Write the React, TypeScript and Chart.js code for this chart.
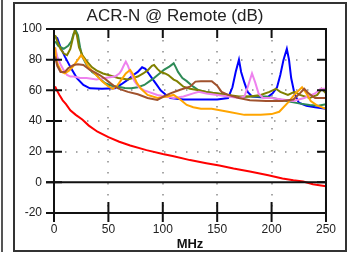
import React, { useEffect, useRef } from "react";
import { Chart, registerables } from "chart.js";

Chart.register(...registerables);

const TITLE = "ACR-N @ Remote (dB)";
const X_TITLE = "MHz";
const X_TICKS = [0, 50, 100, 150, 200, 250];
const Y_TICKS = [-20, 0, 20, 40, 60, 80, 100];
const X_GRID = [50, 100, 150, 200];
const Y_GRID = [20, 40, 60, 80];

const blueF = [1, 3, 6, 10, 16, 21, 27, 33, 44, 56, 62, 68, 73, 77, 81, 84, 87, 90, 94, 98, 103, 107, 119, 133, 150, 160, 164, 167, 170, 172, 175, 178, 182, 190, 196, 201, 205, 208, 211, 214, 216, 218, 221, 225, 232, 240, 250];
const blueV = [95, 94, 88, 82, 74, 68, 63.5, 61.3, 61, 61.3, 64, 67, 70, 72, 75, 74, 71, 68, 64, 60, 57, 55, 54, 54, 54, 55, 62, 72, 80, 72, 65, 59, 56, 55.5, 55.5, 58, 62, 70, 80, 87, 80, 68, 58, 52, 50, 49, 48];

const oliveF = [1, 3, 6, 9, 12, 15, 17, 19, 21, 23, 26, 30, 35, 39, 45, 50, 59, 68, 77, 82, 86, 90, 92, 95, 98, 102, 105, 110, 113, 119, 125, 133, 140, 150, 160, 170, 180, 190, 198, 204, 208, 215, 221, 226, 235, 242, 246, 250];
const oliveV = [96, 92, 87, 84, 83, 87, 93, 99, 96, 88, 83, 79, 75, 73, 71, 70, 68, 67, 69, 71, 73, 76, 76.5, 74, 72, 71, 70, 67, 66, 62.4, 61, 60, 59, 58, 57, 56, 56, 57, 59, 61, 59, 57, 59, 57, 55, 57, 61, 58];

const greenF = [1, 4, 9, 13, 16, 18, 20, 22, 24, 26, 30, 35, 39, 43, 47, 53, 59, 65, 71, 77, 83, 88, 92, 97, 101, 106, 110, 112, 114, 118, 122, 128, 133, 140, 150, 160, 168, 180, 195, 210, 225, 235, 243, 250];
const greenV = [92, 89, 87, 89, 92, 97, 99, 96, 88, 82, 76.5, 72, 70, 67, 64.6, 63, 62.4, 61.5, 61.3, 62, 63.5, 66, 68, 71, 73.3, 75.5, 77.6, 75, 72, 68, 66, 62.4, 60, 59, 58, 57, 55.5, 56, 56, 53.5, 51.5, 50.5, 50, 51];

const orangeF = [1, 2, 4, 7, 10, 14, 18, 22, 25, 28, 31, 36, 44, 50, 54, 58, 62, 66, 70, 73, 76, 80, 86, 95, 104, 110, 116, 122, 128, 135, 145, 160, 175, 190, 200, 207, 215, 222, 228, 232, 236, 242, 250];
const orangeV = [88, 80, 76, 72, 71, 73, 76, 80, 83, 80, 76, 72, 66, 62.5, 61, 63, 67, 71, 73.3, 70, 65, 61, 57, 55, 56, 57, 54, 50.5, 49, 48, 48, 46, 44, 44, 44.5, 46, 52, 58, 62, 58, 53, 50, 48];

const brownF = [1, 3, 6, 10, 13, 18, 22, 27, 33, 38, 42, 46, 50, 55, 59, 64, 68, 77, 86, 95, 101, 107, 116, 125, 130, 135, 145, 150, 154, 160, 170, 180, 195, 210, 220, 226, 230, 234, 240, 250];
const brownV = [82, 76, 72, 72, 74.4, 76.5, 77, 76.5, 73.3, 71.5, 70, 68, 65.7, 63, 61.3, 60, 59, 57.4, 55, 53.7, 56, 58, 60.4, 62.4, 65.7, 66, 66, 63, 59, 57, 55, 53.5, 53, 53, 54, 58, 61, 58, 55, 55];

const violetF = [1, 3, 6, 9, 12, 15, 18, 24, 30, 39, 47, 56, 60, 62, 64, 66, 68, 70, 74, 78, 83, 95, 110, 119, 128, 133, 140, 150, 160, 170, 175, 178, 182, 185, 188, 192, 200, 210, 220, 230, 240, 245, 250];
const violetV = [88, 82, 77, 73, 70, 69, 69, 68, 68, 67, 68, 69, 71, 73, 76, 78.7, 76, 72, 66, 62, 60, 57, 55, 56, 58, 59, 58, 57, 56, 55, 56, 62, 71, 65, 58, 55, 55, 54, 53, 55, 58, 61, 61];

const redF = [1, 3, 5, 8, 11, 15, 20, 26, 32, 40, 50, 60, 70, 85, 100, 110, 125, 140, 152, 165, 180, 197, 210, 220, 229, 238, 250];
const redV = [62.6, 59.5, 57, 53.5, 51, 47, 44, 41, 37, 33, 29.5, 26.5, 24, 21, 18.5, 17, 14.5, 12.5, 11, 9, 7, 4.6, 2.5, 1.3, 0.5, -1.2, -2.6];

const SERIES = [
  { name: "brown", f: brownF, v: brownV, color: "#a0522d" },
  { name: "orange", f: orangeF, v: orangeV, color: "#ffa500" },
  { name: "violet", f: violetF, v: violetV, color: "#ee82ee" },
  { name: "olive", f: oliveF, v: oliveV, color: "#808000" },
  { name: "green", f: greenF, v: greenV, color: "#2e8b57" },
  { name: "blue", f: blueF, v: blueV, color: "#0000ff" },
  { name: "red", f: redF, v: redV, color: "#ff0000" },
];

const FONT = "'Liberation Sans', Arial, sans-serif";

const framePlugin = {
  id: "framePlugin",
  beforeDatasetsDraw(chart: any) {
    const { ctx, chartArea: a, scales } = chart;
    const xs = scales.x;
    const ys = scales.y;
    ctx.save();
    ctx.strokeStyle = "#8a8a8a";
    ctx.lineWidth = 1.5;
    ctx.setLineDash([1.5, 9.5]);
    for (const g of X_GRID) {
      const px = Math.round(xs.getPixelForValue(g));
      ctx.beginPath();
      ctx.moveTo(px, a.top);
      ctx.lineTo(px, a.bottom);
      ctx.stroke();
    }
    for (const g of Y_GRID) {
      const py = Math.round(ys.getPixelForValue(g));
      ctx.beginPath();
      ctx.moveTo(a.left, py);
      ctx.lineTo(a.right, py);
      ctx.stroke();
    }
    ctx.restore();
  },
  afterDatasetsDraw(chart: any) {
    const { ctx, chartArea: a, scales } = chart;
    const xs = scales.x;
    const ys = scales.y;
    ctx.save();
    ctx.strokeStyle = "#111";
    ctx.lineWidth = 2;
    ctx.setLineDash([]);
    // zero line
    const y0 = ys.getPixelForValue(0);
    ctx.beginPath();
    ctx.moveTo(a.left - 8, y0);
    ctx.lineTo(a.right, y0);
    ctx.stroke();
    // border
    ctx.strokeRect(a.left, a.top, a.right - a.left, a.bottom - a.top);
    // y ticks
    for (const t of Y_TICKS) {
      const py = ys.getPixelForValue(t);
      ctx.beginPath();
      ctx.moveTo(a.left - 8, py);
      ctx.lineTo(a.left + 8, py);
      ctx.moveTo(a.right - 9, py);
      ctx.lineTo(a.right, py);
      ctx.stroke();
    }
    // x ticks
    for (const t of X_TICKS) {
      const px = xs.getPixelForValue(t);
      ctx.beginPath();
      ctx.moveTo(px, a.bottom - 11);
      ctx.lineTo(px, a.bottom + 9);
      ctx.moveTo(px, a.top);
      ctx.lineTo(px, a.top + 9);
      ctx.stroke();
    }
    ctx.restore();
  },
};

export default function App() {
  const ref = useRef<HTMLCanvasElement | null>(null);

  useEffect(() => {
    if (!ref.current) return;
    const chart = new Chart(ref.current, {
      type: "line",
      data: {
        datasets: SERIES.map((s) => ({
          label: s.name,
          data: s.f.map((f, i) => ({ x: f, y: s.v[i] })),
          borderColor: s.color,
          backgroundColor: s.color,
          borderWidth: 2,
          pointRadius: 0,
          tension: 0,
          fill: false,
        })),
      },
      options: {
        animation: false,
        responsive: false,
        devicePixelRatio: 1,
        layout: { padding: { left: 0, right: 10, top: 0, bottom: 0 } },
        plugins: {
          legend: { display: false },
          tooltip: { enabled: false },
          title: {
            display: true,
            text: TITLE,
            color: "#222",
            font: { family: FONT, size: 17, weight: "normal", lineHeight: 1.2 },
            padding: { top: 2, bottom: 2.6 },
          },
        },
        scales: {
          x: {
            type: "linear",
            min: 0,
            max: 250,
            grid: { display: false, drawTicks: false },
            border: { display: false },
            ticks: {
              stepSize: 50,
              padding: 9,
              color: "#222",
              font: { family: FONT, size: 12 },
              maxRotation: 0,
              autoSkip: false,
            },
            title: {
              display: true,
              text: X_TITLE,
              color: "#111",
              font: { family: FONT, size: 13, weight: "bold", lineHeight: 1 },
              padding: { top: 0, bottom: -1 },
            },
            afterFit: (s: any) => {
              s.height = 37;
            },
          },
          y: {
            type: "linear",
            min: -20,
            max: 100,
            grid: { display: false, drawTicks: false },
            border: { display: false },
            ticks: {
              stepSize: 20,
              padding: 12,
              color: "#222",
              font: { family: FONT, size: 12 },
            },
            afterFit: (s: any) => {
              s.width = 39;
            },
          },
        },
      } as any,
      plugins: [framePlugin],
    });
    return () => chart.destroy();
  }, []);

  return (
    <div style={{ position: "fixed", left: 0, top: 0, width: 349, height: 254, background: "#fff", overflow: "hidden" }}>
      <div style={{ position: "absolute", left: 1, top: 0, width: 2, height: 252, background: "#555" }} />
      <div
        style={{
          position: "absolute",
          left: 13,
          top: 2,
          width: 334,
          height: 250,
          boxSizing: "border-box",
          border: "2px solid #333",
        }}
      />
      <canvas
        ref={ref}
        width={330}
        height={246}
        style={{ position: "absolute", left: 15, top: 4, width: 330, height: 246 }}
      />
    </div>
  );
}
